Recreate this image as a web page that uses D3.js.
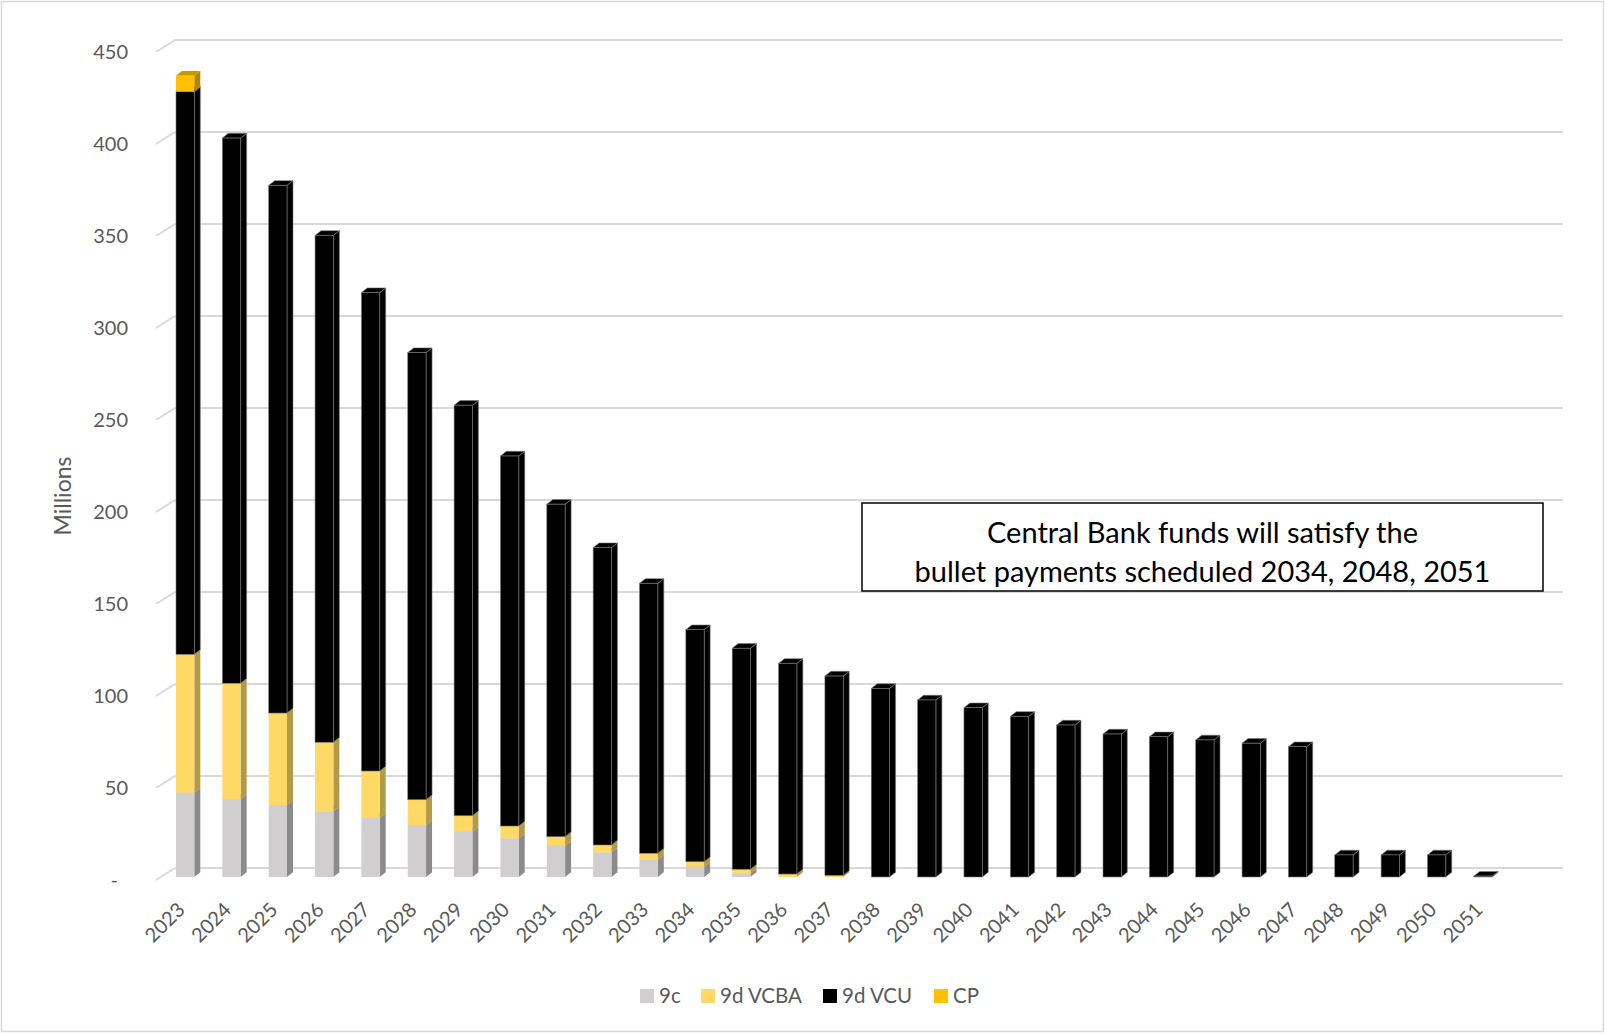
<!DOCTYPE html>
<html>
<head>
<meta charset="utf-8">
<script src="https://cdn.jsdelivr.net/npm/d3@7"></script>
<style>
  html, body { margin: 0; padding: 0; background: #fff; }
  svg { display: block; }
  text { font-family: Lato, "Open Sans", sans-serif; }
</style>
</head>
<body>
<svg id="chart" width="1605" height="1034"></svg>
<script>
// ---------------- DATA ----------------
const years = ["2023","2024","2025","2026","2027","2028","2029","2030","2031","2032",
  "2033","2034","2035","2036","2037","2038","2039","2040","2041","2042","2043","2044",
  "2045","2046","2047","2048","2049","2050","2051"];
const s9c   = [45.8,42.4,39.1,35.7,32.1,28.3,24.6,21.0,17.0,13.4,9.6,5.6,2.0,0,0,0,0,0,0,0,0,0,0,0,0,0,0,0,0];
const s9dVCBA = [75.2,62.9,50.0,37.5,25.5,13.7,8.7,6.7,4.9,4.0,3.3,2.7,2.2,1.6,0.9,0,0,0,0,0,0,0,0,0,0,0,0,0,0];
const s9dVCU  = [305.8,296.3,286.8,275.5,260.0,243.0,223.1,201.1,180.7,161.6,146.7,126.1,120.1,114.5,108.3,
  102.5,96.2,92.0,87.3,82.6,77.7,76.2,74.5,72.7,70.8,12.0,12.0,12.0,0.5];
const sCP   = [8.7,0,0,0,0,0,0,0,0,0,0,0,0,0,0,0,0,0,0,0,0,0,0,0,0,0,0,0,0];
const seriesNames = ["9c","9d VCBA","9d VCU","CP"];
const yTicks = [0,50,100,150,200,250,300,350,400,450];
const yTickLabels = ["-","50","100","150","200","250","300","350","400","450"];
const yTitle = "Millions";
const noteLines = ["Central Bank funds will satisfy the", "bullet payments scheduled 2034, 2048, 2051"];

// ---------------- STYLE ----------------
const colors = {
  "9c":      {front:"#D0CECE", side:"#8C8B8B", top:"#B5B3B3", stroke:"none"},
  "9d VCBA": {front:"#FFD966", side:"#B39A48", top:"#D9B84F", stroke:"none"},
  "9d VCU":  {front:"#000000", side:"#000000", top:"#000000", stroke:"#7a7a7a"},
  "CP":      {front:"#FFC000", side:"#B38600", top:"#C89600", stroke:"none"}
};
const textColor = "#595959";
const gridColor = "#D9D9D9";

const svg = d3.select("#chart");

// chart area border
svg.append("rect").attr("x",1.5).attr("y",1.5).attr("width",1602).attr("height",1030)
  .attr("fill","none").attr("stroke","#D9D9D9").attr("stroke-width",1.5);

// ---------------- SCALES ----------------
const y = d3.scaleLinear().domain([0,450]).range([877, 877 - 450*1.84]); // bar front plane
const x = d3.scaleBand().domain(years).range([164, 164 + 29*46.35]).padding(0);
const barW = 18.3, barOff = 12, depthX = 6, depthY = 4.7;
const wallShift = -9, wallDX = 19, floorFrontShift = 3;
const wallLeft = 175, wallRight = 1563;

// ---------------- GRID ----------------
const grid = svg.append("g");
yTicks.forEach(v => {
  const yb = y(v) + wallShift;
  grid.append("line").attr("x1",wallLeft).attr("x2",wallRight).attr("y1",yb).attr("y2",yb)
    .attr("stroke",gridColor).attr("stroke-width",2);
  grid.append("line").attr("x1",wallLeft - wallDX).attr("y1",y(v)+floorFrontShift)
    .attr("x2",wallLeft).attr("y2",yb).attr("stroke",gridColor).attr("stroke-width",2);
});

// y tick labels
const yAxisG = svg.append("g");
yTicks.forEach((v,i) => {
  yAxisG.append("text")
    .attr("x", v === 0 ? 118 : 128)
    .attr("y", y(v) + floorFrontShift)
    .attr("dy","0.35em")
    .attr("text-anchor","end")
    .attr("fill",textColor)
    .attr("font-size",20)
    .text(yTickLabels[i]);
});

// y title
svg.append("text")
  .attr("transform","translate(71,496) rotate(-90)")
  .attr("text-anchor","middle")
  .attr("fill",textColor)
  .attr("font-size",23)
  .text(yTitle);

// ---------------- BARS ----------------
const table = years.map((yr,i) => ({year:yr, "9c":s9c[i], "9d VCBA":s9dVCBA[i], "9d VCU":s9dVCU[i], "CP":sCP[i]}));
const stacked = d3.stack().keys(seriesNames)(table);

const barsG = svg.append("g");
years.forEach((yr,i) => {
  const g = barsG.append("g");
  const x0 = x(yr) + barOff;
  stacked.forEach(layer => {
    const d = layer[i];
    const v0 = d[0], v1 = d[1];
    if (v1 - v0 <= 0) return;
    const c = colors[layer.key];
    const yb = y(v0), yt = y(v1);
    const sw = c.stroke === "none" ? 0 : 0.6;
    g.append("polygon")
      .attr("points", [[x0+barW,yb],[x0+barW+depthX,yb-depthY],[x0+barW+depthX,yt-depthY],[x0+barW,yt]].map(p=>p.join(",")).join(" "))
      .attr("fill",c.side).attr("stroke",c.stroke).attr("stroke-width",sw);
    g.append("polygon")
      .attr("points", [[x0,yt],[x0+depthX,yt-depthY],[x0+barW+depthX,yt-depthY],[x0+barW,yt]].map(p=>p.join(",")).join(" "))
      .attr("fill",c.top).attr("stroke",c.stroke).attr("stroke-width",sw);
    g.append("rect").attr("x",x0).attr("y",yt).attr("width",barW).attr("height",Math.max(yb-yt,0.1))
      .attr("fill",c.front).attr("stroke",c.stroke).attr("stroke-width",sw);
  });
});

// x labels
const xAxisG = svg.append("g");
years.forEach(yr => {
  const cx = x(yr) + barOff + barW/2;
  xAxisG.append("text")
    .attr("transform",`translate(${cx+1},${911}) rotate(-45)`)
    .attr("text-anchor","end")
    .attr("fill",textColor)
    .attr("font-size",20)
    .text(yr);
});

// ---------------- ANNOTATION ----------------
const box = {x:862, y:503, w:681, h:88};
svg.append("rect").attr("x",box.x).attr("y",box.y).attr("width",box.w).attr("height",box.h)
  .attr("fill","#fff").attr("stroke","#000").attr("stroke-width",1.5);
noteLines.forEach((t,i) => {
  svg.append("text").attr("x",box.x + box.w/2).attr("y", 533 + i*39).attr("dy","0.35em")
    .attr("text-anchor","middle").attr("fill","#000").attr("font-size",29).text(t);
});

// ---------------- LEGEND ----------------
const legendX = [640, 701, 823, 934];
const legend = svg.append("g");
seriesNames.forEach((name,i) => {
  legend.append("rect").attr("x",legendX[i]).attr("y",989).attr("width",14).attr("height",14)
    .attr("fill",colors[name].front);
  legend.append("text").attr("x",legendX[i]+19).attr("y",996).attr("dy","0.35em")
    .attr("fill",textColor).attr("font-size",20.5).text(name);
});
</script>
</body>
</html>
